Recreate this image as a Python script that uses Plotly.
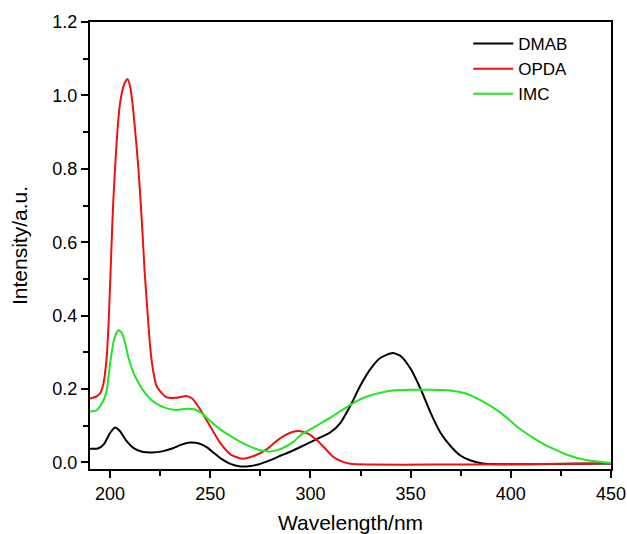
import plotly.graph_objects as go

dmab_x = [190, 194, 197, 200, 202.5, 205, 208, 212, 216, 221, 226, 231, 236, 240, 244, 248, 252, 256, 260, 265, 270, 275, 280, 285, 290, 295, 300, 305, 310, 315, 320, 325, 330, 335, 341, 345, 350, 355, 360, 365, 370, 375, 380, 386, 395, 410, 430, 450]
dmab_y = [0.037, 0.038, 0.05, 0.08, 0.095, 0.085, 0.06, 0.038, 0.029, 0.027, 0.03, 0.038, 0.049, 0.054, 0.052, 0.042, 0.025, 0.008, -0.004, -0.011, -0.01, -0.004, 0.006, 0.018, 0.029, 0.042, 0.055, 0.068, 0.082, 0.108, 0.155, 0.21, 0.255, 0.285, 0.298, 0.29, 0.255, 0.2, 0.135, 0.08, 0.044, 0.018, 0.005, -0.003, -0.005, -0.005, -0.004, -0.003]

opda_x = [190, 193.3, 195.2, 196.7, 198.3, 199.2, 200, 200.8, 201.6, 202.5, 203.5, 205, 207, 208.7, 210, 211.2, 212.8, 214.2, 215.3, 216.3, 217.2, 218.3, 219.2, 220.3, 221.5, 223.3, 228, 233, 238, 241, 245, 250, 255, 260, 266, 272, 278, 283, 287, 291, 295, 299, 303, 307, 311, 315, 320, 330, 360, 400, 430, 450]
opda_y = [0.174, 0.18, 0.19, 0.215, 0.285, 0.371, 0.48, 0.6, 0.71, 0.8, 0.89, 0.979, 1.03, 1.045, 1.025, 0.979, 0.888, 0.797, 0.707, 0.616, 0.525, 0.44, 0.371, 0.3, 0.25, 0.207, 0.178, 0.176, 0.181, 0.174, 0.144, 0.098, 0.053, 0.022, 0.01, 0.018, 0.035, 0.058, 0.073, 0.083, 0.085, 0.078, 0.062, 0.04, 0.017, 0.004, -0.004, -0.006, -0.006, -0.005, -0.004, -0.002]

imc_x = [190, 193, 195, 197, 198.3, 200.3, 202, 204.2, 206, 207.5, 209.2, 212.5, 217.5, 222.5, 228, 233, 238, 242, 246, 250, 255, 260, 265, 270, 275, 280, 284, 288, 292, 295, 300, 305, 310, 315, 320, 325, 330, 335, 341, 350, 360, 370, 378, 386, 391, 395, 399, 403, 407, 412, 416, 420, 428, 437, 450]
imc_y = [0.139, 0.141, 0.153, 0.172, 0.195, 0.28, 0.335, 0.36, 0.352, 0.325, 0.285, 0.234, 0.189, 0.162, 0.148, 0.143, 0.146, 0.145, 0.133, 0.113, 0.09, 0.072, 0.056, 0.043, 0.033, 0.03, 0.034, 0.044, 0.058, 0.074, 0.09, 0.106, 0.122, 0.14, 0.157, 0.172, 0.183, 0.19, 0.196, 0.198, 0.198, 0.196, 0.187, 0.166, 0.15, 0.135, 0.117, 0.098, 0.082, 0.064, 0.051, 0.04, 0.021, 0.007, -0.002]

series = [("DMAB", dmab_x, dmab_y, "#000000"),
          ("OPDA", opda_x, opda_y, "#f01010"),
          ("IMC", imc_x, imc_y, "#22e622")]

fig = go.Figure()
for name, xs, ys, col in series:
    fig.add_trace(go.Scatter(x=xs, y=ys, mode="lines", name=name,
                             line=dict(color=col, width=2, shape="spline", smoothing=0.6)))

font = "Liberation Sans, Arial, sans-serif"
fig.update_layout(
    width=627, height=534,
    margin=dict(l=90, r=16, t=22, b=65),
    paper_bgcolor="white", plot_bgcolor="white",
    font=dict(family=font, size=18, color="black"),
    showlegend=True,
    legend=dict(x=0.726, y=0.991, xanchor="left", yanchor="top",
                bgcolor="rgba(0,0,0,0)", font=dict(size=17), tracegroupgap=0,
                itemwidth=40),
    xaxis=dict(range=[190, 450], tickvals=[200, 250, 300, 350, 400, 450],
               automargin=False,
               showline=True, linewidth=2, linecolor="black", mirror=True,
               ticks="outside", ticklen=7, tickwidth=1.5, tickcolor="black",
               minor=dict(tickvals=[225, 275, 325, 375, 425], ticks="outside", ticklen=5, tickcolor="black"),
               showgrid=False, zeroline=False,
               title=dict(text="Wavelength/nm", font=dict(size=21), standoff=18),
               tickfont=dict(size=18)),
    yaxis=dict(range=[-0.018, 1.2], tickvals=[0, 0.2, 0.4, 0.6, 0.8, 1.0, 1.2],
               tickformat=".1f", automargin=False,
               showline=True, linewidth=2, linecolor="black", mirror=True,
               ticks="outside", ticklen=7, tickwidth=1.5, tickcolor="black",
               minor=dict(tickvals=[0.1, 0.3, 0.5, 0.7, 0.9, 1.1], ticks="outside", ticklen=5, tickcolor="black"),
               showgrid=False, zeroline=False,
               title=dict(text="Intensity/a.u.", font=dict(size=21), standoff=19),
               tickfont=dict(size=18)),
)

fig.write_html("out.html", config={"displayModeBar": False},
               post_script="document.body.style.margin='0';document.body.style.overflow='hidden';")
